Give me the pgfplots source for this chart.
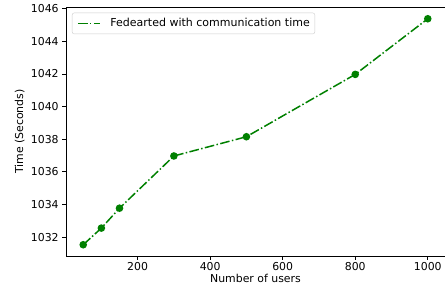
\documentclass[border=0pt]{standalone}
\usepackage{pgfplots}
\pgfplotsset{compat=1.18}
\usepackage{fontspec}
\setmainfont{DejaVu Sans}
\definecolor{mplgreen}{rgb}{0,0.5,0}
\begin{document}
\fontsize{10.9}{13}\selectfont
\begin{tikzpicture}
\begin{axis}[
  at={(0,0)}, anchor=south west,
  scale only axis,
  width=379pt, height=248.5pt,
  xmin=2.5, xmax=1047.5,
  ymin=1030.84, ymax=1046.07,
  xtick={200,400,600,800,1000},
  ytick={1032,1034,1036,1038,1040,1042,1044,1046},
  tick align=outside,
  tick pos=left,
  major tick length=3.5pt,
  every tick/.style={black, line width=0.8pt},
  axis line style={line width=0.8pt},
  /pgf/number format/assume math mode=true,
  /pgf/number format/1000 sep={},
  ticklabel style={font=\fontsize{10.9}{13}\selectfont},
  xticklabel style={yshift=1pt},
  xlabel={Number of users},
  ylabel={Time (Seconds)},
  label style={font=\fontsize{10.9}{13}\selectfont},
  xlabel style={yshift=4pt},
  ylabel style={yshift=-1pt},
  legend style={draw=black!20, rounded corners=2pt, font=\fontsize{11}{13}\selectfont,
    at={(0.0158,0.979)}, anchor=north west, inner xsep=5pt, inner ysep=3pt,
    nodes={inner xsep=0pt, inner ysep=2.5pt}},
  legend image code/.code={
    \path[draw=none] (0pt,-3pt) rectangle (22.3pt,3pt);
    \draw[#1, mark=none, draw=mplgreen, line width=1.5pt, dash pattern=on 9.6pt off 2.4pt on 1.5pt off 2.4pt] (0pt,0pt) -- (22.3pt,0pt);},
  legend cell align=left,
  clip=false,
]
\addplot[mplgreen, line width=1.5pt, dash pattern=on 9.6pt off 2.4pt on 1.5pt off 2.4pt,
  mark=*, mark size=3pt, mark options={solid, fill=mplgreen, draw=mplgreen}]
  coordinates {(50,1031.53) (100,1032.55) (150,1033.77) (300,1036.97) (500,1038.15) (800,1041.97) (1000,1045.38)};
\addlegendentry{\hspace{9.5pt}Fedearted with communication time}
\end{axis}
\pgfresetboundingbox
\path[use as bounding box] (-66pt,-36pt) rectangle (379pt,256pt);
\end{tikzpicture}
\end{document}
